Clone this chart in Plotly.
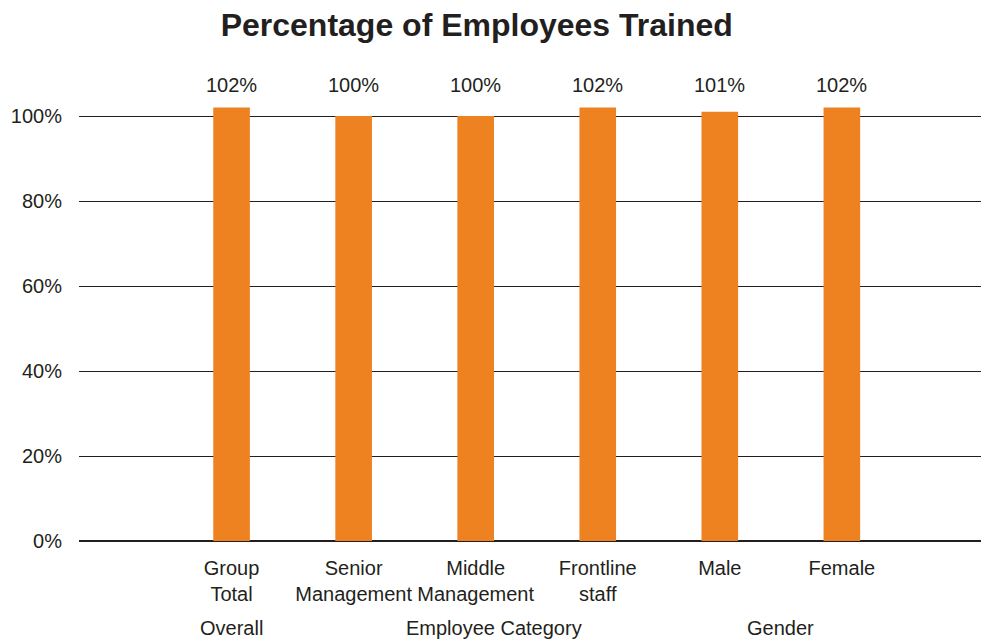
import plotly.graph_objects as go

# Training coverage by employee grouping
categories = ["Group<br>Total", "Senior<br>Management", "Middle<br>Management",
              "Frontline<br>staff", "Male", "Female"]
percent_trained = [102, 100, 100, 102, 101, 102]

# Group headings shown beneath the category labels
group_names = ["Overall", "Employee Category", "Gender"]
group_centers = [0, 2.15, 4.5]

y_ticks = [0, 20, 40, 60, 80, 100]
y_tick_labels = [f"{v}%" for v in y_ticks]

BAR = "#EE8221"
INK = "#231F20"
FONT = "Liberation Sans, Arial, sans-serif"

x_idx = list(range(len(categories)))

fig = go.Figure()
fig.add_trace(go.Bar(
    x=x_idx,
    y=percent_trained,
    marker=dict(color=BAR, line=dict(width=0)),
    width=0.3,
    hoverinfo="skip",
))

# value labels sit on one common line above the bars
for i, v in zip(x_idx, percent_trained):
    fig.add_annotation(
        x=i, y=107.3, xref="x", yref="y",
        text=f"{v}%", showarrow=False, yanchor="middle",
        font=dict(family=FONT, size=20, color=INK),
    )

# group headings are placed in pixels below the axis
for name, cx in zip(group_names, group_centers):
    fig.add_annotation(
        x=cx, y=0, xref="x", yref="paper", yshift=-87,
        text=name, showarrow=False, yanchor="middle",
        font=dict(family=FONT, size=20, color=INK),
    )

fig.update_layout(
    width=981, height=639,
    margin=dict(l=79, r=0, t=60, b=98),
    paper_bgcolor="white", plot_bgcolor="white",
    showlegend=False,
    title=dict(
        text="<b>Percentage of Employees Trained</b>",
        x=0.486, xref="container", xanchor="center",
        y=0.961, yref="container", yanchor="middle",
        font=dict(family=FONT, size=32, color=INK),
    ),
    xaxis=dict(
        range=[-1.25, 6.14],
        tickmode="array", tickvals=x_idx, ticktext=categories,
        showgrid=False, zeroline=False, showline=False,
        ticks="", ticklabelstandoff=13,
        tickfont=dict(family=FONT, size=20, color=INK),
        fixedrange=True,
    ),
    yaxis=dict(
        range=[0, 113.2],
        tickmode="array", tickvals=y_ticks, ticktext=y_tick_labels,
        showgrid=True, gridcolor=INK, gridwidth=1.3,
        zeroline=True, zerolinecolor=INK, zerolinewidth=1.6,
        showline=False, ticks="", ticklabelstandoff=16,
        tickfont=dict(family=FONT, size=20, color=INK),
        fixedrange=True,
    ),
)

fig.write_html("out.html", config=dict(displayModeBar=False))
